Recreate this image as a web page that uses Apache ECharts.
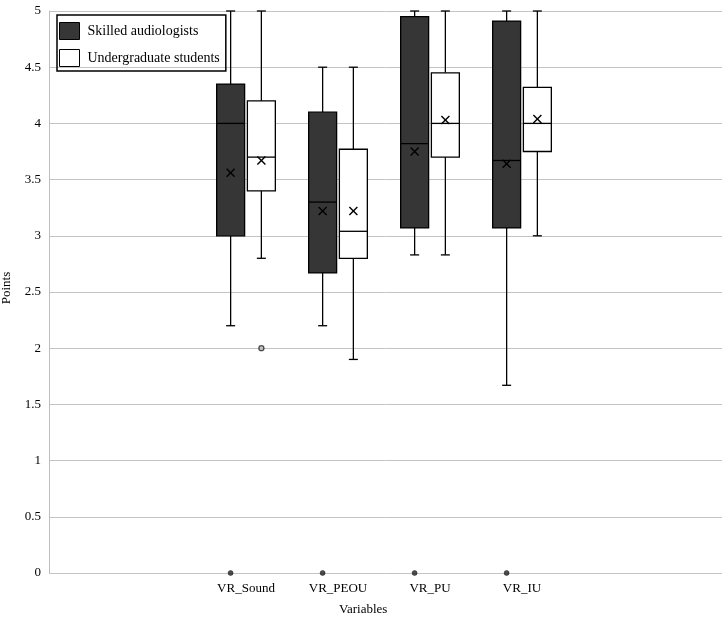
<!DOCTYPE html>
<html>
<head>
<meta charset="utf-8">
<script src="https://cdn.jsdelivr.net/npm/echarts@6/dist/echarts.min.js"></script>
<style>html,body{margin:0;padding:0;background:#fff}#c{width:724px;height:623px}</style>
</head>
<body>
<div id="c"></div>
<script>
const categories = ['VR_Sound', 'VR_PEOU', 'VR_PU', 'VR_IU'];
const seriesNames = ['Skilled audiologists', 'Undergraduate students'];

const skilledMin    = [2.2, 2.2, 2.83, 1.67];
const skilledQ1     = [3.0, 2.67, 3.07, 3.07];
const skilledMedian = [4.0, 3.3, 3.82, 3.67];
const skilledQ3     = [4.35, 4.1, 4.95, 4.91];
const skilledMax    = [5, 4.5, 5, 5];
const skilledMean   = [3.56, 3.22, 3.75, 3.64];

const undergradMin    = [2.8, 1.9, 2.83, 3.0];
const undergradQ1     = [3.4, 2.8, 3.7, 3.75];
const undergradMedian = [3.7, 3.04, 4.0, 4.0];
const undergradQ3     = [4.2, 3.77, 4.45, 4.32];
const undergradMax    = [5, 4.5, 5, 5];
const undergradMean   = [3.67, 3.22, 4.03, 4.04];

const skilledOutlierCat = [0, 1, 2, 3];
const skilledOutlierVal = [0, 0, 0, 0];
const undergradOutlierCat = [0];
const undergradOutlierVal = [2.0];

const yTicks = [0, 0.5, 1, 1.5, 2, 2.5, 3, 3.5, 4, 4.5, 5];

function build(mins, q1, med, q3, maxs, means) {
  return categories.map((c, i) => [i, mins[i], q1[i], med[i], q3[i], maxs[i], means[i]]);
}
const skilledData = build(skilledMin, skilledQ1, skilledMedian, skilledQ3, skilledMax, skilledMean);
const undergradData = build(undergradMin, undergradQ1, undergradMedian, undergradQ3, undergradMax, undergradMean);

const fills = ['#363636', '#ffffff'];
const FONT = '"Liberation Serif", "Times New Roman", serif';

function renderBox(params, api) {
  const cat = api.value(0);
  const bw = api.size([1, 0])[0];
  const off = (params.seriesIndex === 0 ? -1 : 1) * bw * 0.167;
  const cx = api.coord([cat, 0])[0] + off;
  const y = v => api.coord([cat, v])[1];
  const boxW = bw * 0.304;
  const capW = 9;
  const mn = y(api.value(1)), q1 = y(api.value(2)), md = y(api.value(3)),
        q3 = y(api.value(4)), mx = y(api.value(5)), mean = y(api.value(6));
  const ls = { stroke: '#000', lineWidth: 1.3 };
  const m = 4;
  return {
    type: 'group',
    children: [
      { type: 'line', shape: { x1: cx, y1: mn, x2: cx, y2: q1 }, style: ls },
      { type: 'line', shape: { x1: cx, y1: q3, x2: cx, y2: mx }, style: ls },
      { type: 'line', shape: { x1: cx - capW / 2, y1: mn, x2: cx + capW / 2, y2: mn }, style: ls },
      { type: 'line', shape: { x1: cx - capW / 2, y1: mx, x2: cx + capW / 2, y2: mx }, style: ls },
      { type: 'rect', shape: { x: cx - boxW / 2, y: q3, width: boxW, height: q1 - q3 },
        style: { fill: fills[params.seriesIndex], stroke: '#000', lineWidth: 1.3 } },
      { type: 'line', shape: { x1: cx - boxW / 2, y1: md, x2: cx + boxW / 2, y2: md }, style: ls },
      { type: 'line', shape: { x1: cx - m, y1: mean - m, x2: cx + m, y2: mean + m }, style: { stroke: '#000', lineWidth: 1.4 } },
      { type: 'line', shape: { x1: cx - m, y1: mean + m, x2: cx + m, y2: mean - m }, style: { stroke: '#000', lineWidth: 1.4 } }
    ]
  };
}

const chart = echarts.init(document.getElementById('c'), null, { renderer: 'canvas' });
chart.setOption({
  animation: false,
  backgroundColor: '#fff',
  grid: [
    { left: 49, right: 2, top: 11, bottom: 50 },
    { left: 200, width: 368, top: 11, bottom: 50 }
  ],
  xAxis: [
    { gridIndex: 0, type: 'category', data: categories, show: true,
      axisLine: { show: false }, axisTick: { show: false }, axisLabel: { show: false }, splitLine: { show: false } },
    { gridIndex: 1, type: 'category', data: categories,
      axisLine: { show: false }, axisTick: { show: false },
      axisLabel: { color: '#000', fontFamily: FONT, fontSize: 13, margin: 9 } }
  ],
  yAxis: [
    { gridIndex: 0, type: 'value', min: 0, max: 5, interval: 0.5,
      axisLine: { show: true, lineStyle: { color: '#bdbdbd', width: 1 } },
      axisTick: { show: false },
      axisLabel: { color: '#000', fontFamily: FONT, fontSize: 13, margin: 8,
        formatter: v => String(v) },
      splitLine: { show: true, lineStyle: { color: '#c4c4c4', width: 1 } } },
    { gridIndex: 1, type: 'value', min: 0, max: 5, interval: 0.5, show: false }
  ],
  legend: {
    left: 57, top: 15,
    orient: 'vertical',
    borderColor: '#000', borderWidth: 1.5,
    padding: [7, 6, 4, 2],
    itemWidth: 20, itemHeight: 17, itemGap: 9,
    icon: 'rect',
    textStyle: { color: '#000', fontFamily: FONT, fontSize: 14, padding: [0, 0, 0, 3] },
    data: [
      { name: seriesNames[0], itemStyle: { color: fills[0], borderColor: '#000', borderWidth: 1 } },
      { name: seriesNames[1], itemStyle: { color: fills[1], borderColor: '#000', borderWidth: 1 } }
    ]
  },
  graphic: [
    { type: 'text', left: 364 - 25, top: 603,
      style: { text: 'Variables', fill: '#000', font: '13px ' + FONT } },
    { type: 'text', x: 7, y: 288, rotation: Math.PI / 2,
      style: { text: 'Points', fill: '#000', font: '13px ' + FONT, align: 'center', verticalAlign: 'middle' } }
  ],
  series: [
    { name: seriesNames[0], type: 'custom', xAxisIndex: 1, yAxisIndex: 1,
      itemStyle: { color: fills[0] },
      encode: { x: 0, y: [1, 2, 3, 4, 5, 6] },
      renderItem: renderBox, data: skilledData, z: 3 },
    { name: seriesNames[1], type: 'custom', xAxisIndex: 1, yAxisIndex: 1,
      itemStyle: { color: fills[1] },
      encode: { x: 0, y: [1, 2, 3, 4, 5, 6] },
      renderItem: renderBox, data: undergradData, z: 3 },
    { name: seriesNames[0] + ' outliers', type: 'scatter', xAxisIndex: 1, yAxisIndex: 1,
      data: skilledOutlierCat.map((c, i) => [c, skilledOutlierVal[i]]),
      symbol: 'circle', symbolSize: 5, symbolOffset: [-15.4, 0],
      itemStyle: { color: '#222', borderColor: '#000', borderWidth: 0.5 }, z: 4 },
    { name: seriesNames[1] + ' outliers', type: 'scatter', xAxisIndex: 1, yAxisIndex: 1,
      data: undergradOutlierCat.map((c, i) => [c, undergradOutlierVal[i]]),
      symbol: 'circle', symbolSize: 5, symbolOffset: [15.4, 0],
      itemStyle: { color: '#bbb', borderColor: '#222', borderWidth: 1.3 }, z: 4 }
  ]
});
</script>
</body>
</html>
